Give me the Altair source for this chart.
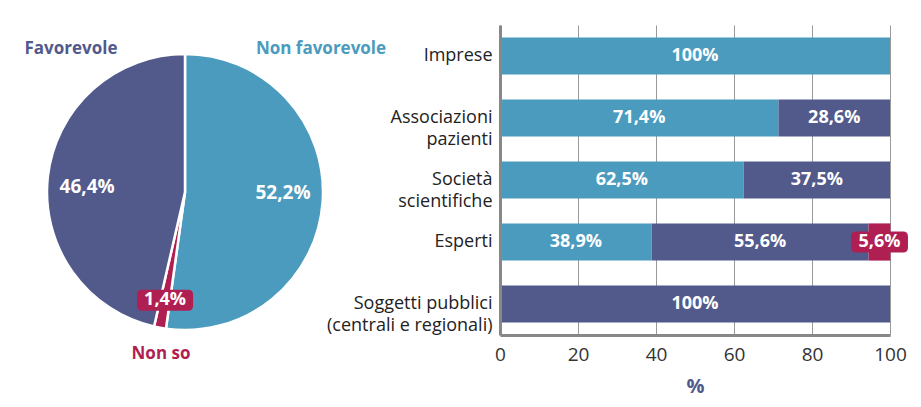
import altair as alt
import numpy as np
import pandas as pd

# Overall opinion (pie)
pie_labels = ["Non favorevole", "Non so", "Favorevole"]
pie_values = [52.2, 1.4, 46.4]

# Opinion by stakeholder group (stacked horizontal bars)
groups = [
    "Imprese",
    "Associazioni|pazienti",
    "Società|scientifiche",
    "Esperti",
    "Soggetti pubblici|(centrali e regionali)",
]
non_favorevole = [100, 71.4, 62.5, 38.9, 0]
favorevole = [0, 28.6, 37.5, 55.6, 100]
non_so = [0, 0, 0, 5.6, 0]

x_ticks = [0, 20, 40, 60, 80, 100]

BLUE = "#4B9BBE"
NAVY = "#525A8C"
CRIMSON = "#B01F52"
series_names = ["Non favorevole", "Favorevole", "Non so"]
series_colors = [BLUE, NAVY, CRIMSON]
FONT = "Open Sans"


def pct(v):
    s = f"{v:.1f}".replace(".", ",")
    if s.endswith(",0"):
        s = s[:-2]
    return s + "%"


def rounded_rect(w, h, r):
    """Unit-scaled rounded rectangle path for a point symbol of width w."""
    k = 2.0 / w
    hw, hh, rr = 1.0, h / 2 * k, r * k
    return (
        f"M {-hw + rr} {-hh} L {hw - rr} {-hh} Q {hw} {-hh} {hw} {-hh + rr} "
        f"L {hw} {hh - rr} Q {hw} {hh} {hw - rr} {hh} "
        f"L {-hw + rr} {hh} Q {-hw} {hh} {-hw} {hh - rr} "
        f"L {-hw} {-hh + rr} Q {-hw} {-hh} {-hw + rr} {-hh} Z"
    )


# ---------------- pie ----------------
PIE_W, PIE_H = 368, 334
R = 138
vals = np.array(pie_values)
ends = np.cumsum(vals) / 100.0
starts = ends - vals / 100.0
mids = (starts + ends) / 2 * 2 * np.pi
pie_df = pd.DataFrame({
    "label": pie_labels,
    "value": pie_values,
    "order": range(len(pie_labels)),
    "text": [pct(v) for v in pie_values],
    "mid": mids,
})
# label placement: small slice gets its badge near the rim on the slice;
# large slices get their labels nudged slightly counter-clockwise
small_slice = pie_df["value"] < 5
pie_df["r"] = np.where(small_slice, 110, 98)
pie_df["ang"] = np.where(small_slice, pie_df["mid"], pie_df["mid"] - np.radians(3.5))
pie_df["px"] = pie_df["r"] * np.sin(pie_df["ang"])
pie_df["py"] = pie_df["r"] * np.cos(pie_df["ang"])

xs = alt.Scale(domain=[-PIE_W / 2, PIE_W / 2])
ys = alt.Scale(domain=[-PIE_H / 2, PIE_H / 2])
color_scale = alt.Scale(domain=series_names, range=series_colors)

# thin darker rim under the slices
rim = alt.Chart(pd.DataFrame({"v": [1]})).mark_arc(
    radius=R + 1, radius2=R - 2, color="#2E3550", opacity=0.35,
).encode(theta=alt.Theta("v:Q", stack=True))

arcs = alt.Chart(pie_df).mark_arc(radius=R, stroke="white", strokeWidth=2.5).encode(
    theta=alt.Theta("value:Q", stack=True),
    order=alt.Order("order:Q"),
    color=alt.Color("label:N", scale=color_scale, legend=None),
)

big = pie_df[~small_slice]
small = pie_df[small_slice]

pie_pct = alt.Chart(big).mark_text(
    color="white", fontWeight="bold", fontSize=19, font=FONT
).encode(
    x=alt.X("px:Q", scale=xs, axis=None),
    y=alt.Y("py:Q", scale=ys, axis=None),
    text="text:N",
)

pie_badge = alt.Chart(small).mark_point(
    shape=rounded_rect(56, 21, 5), size=56 ** 2, filled=True, opacity=1,
    color=CRIMSON, strokeWidth=0,
).encode(
    x=alt.X("px:Q", scale=xs, axis=None),
    y=alt.Y("py:Q", scale=ys, axis=None),
)
pie_badge_text = alt.Chart(small).mark_text(
    color="white", fontWeight="bold", fontSize=18, font=FONT
).encode(
    x=alt.X("px:Q", scale=xs, axis=None),
    y=alt.Y("py:Q", scale=ys, axis=None),
    text="text:N",
)

# category names around the pie (offsets from the pie centre, in pixels)
name_pos = {"Favorevole": (-114, 143), "Non favorevole": (136, 143), "Non so": (-24, -162)}
names_df = pd.DataFrame({
    "label": list(name_pos.keys()),
    "nx": [p[0] for p in name_pos.values()],
    "ny": [p[1] for p in name_pos.values()],
})
pie_names = alt.Chart(names_df).mark_text(fontWeight="bold", fontSize=17, font=FONT).encode(
    x=alt.X("nx:Q", scale=xs, axis=None),
    y=alt.Y("ny:Q", scale=ys, axis=None),
    text="label:N",
    color=alt.Color("label:N", scale=color_scale, legend=None),
)

pie = alt.layer(rim, arcs, pie_pct, pie_badge, pie_badge_text, pie_names).properties(
    width=PIE_W, height=PIE_H
)

# ---------------- bars ----------------
rows = []
for g, nf, f, ns in zip(groups, non_favorevole, favorevole, non_so):
    start = 0.0
    for name, v in zip(series_names, [nf, f, ns]):
        if v > 0:
            rows.append({"group": g, "series": name, "start": start, "end": start + v,
                         "mid": start + v / 2, "text": pct(v)})
            start += v
bar_df = pd.DataFrame(rows)

y_enc = alt.Y(
    "group:N",
    scale=alt.Scale(domain=groups, paddingInner=0.4, paddingOuter=0.2),
    axis=alt.Axis(
        title=None, labelExpr="split(datum.label, '|')", labelFontSize=18,
        labelColor="#222", labelLineHeight=22, labelPadding=8, ticks=False,
        domainColor="#888", domainWidth=3, grid=False, zindex=1, labelFont=FONT,
    ),
)
x_scale = alt.Scale(domain=[0, 100], nice=False)

bars = alt.Chart(bar_df).mark_bar().encode(
    y=y_enc,
    x=alt.X(
        "start:Q", scale=x_scale,
        axis=alt.Axis(
            values=x_ticks, title="%", grid=True, gridColor="#999", gridWidth=1,
            ticks=False, domainColor="#888", domainWidth=3, labelFontSize=19,
            labelColor="#333", labelPadding=10, labelFlush=False, labelFont=FONT,
            titleFontSize=20, titleColor=NAVY, titleFontWeight="bold",
            titlePadding=12, titleFont=FONT,
        ),
    ),
    x2="end:Q",
    color=alt.Color("series:N", scale=color_scale, legend=None),
)

plain = bar_df[bar_df["series"] != "Non so"]
flag = bar_df[bar_df["series"] == "Non so"]

bar_text = alt.Chart(plain).mark_text(
    color="white", fontWeight="bold", fontSize=18, font=FONT
).encode(x=alt.X("mid:Q", scale=x_scale), y=alt.Y("group:N", scale=alt.Scale(domain=groups)),
         text="text:N")

bar_badge = alt.Chart(flag).mark_point(
    shape=rounded_rect(57, 21, 5), size=57 ** 2, filled=True, opacity=1,
    color=CRIMSON, strokeWidth=0,
).encode(x=alt.X("mid:Q", scale=x_scale), y=alt.Y("group:N", scale=alt.Scale(domain=groups)))

bar_badge_text = alt.Chart(flag).mark_text(
    color="white", fontWeight="bold", fontSize=18, font=FONT
).encode(x=alt.X("mid:Q", scale=x_scale), y=alt.Y("group:N", scale=alt.Scale(domain=groups)),
         text="text:N")

bar_chart = alt.layer(bars, bar_badge, bar_text, bar_badge_text).properties(width=390, height=310)

chart = (
    alt.hconcat(pie, bar_chart, spacing=131, bounds="flush")
    .properties(padding={"left": 0, "top": 24, "right": 5, "bottom": 5})
    .configure(font=FONT)
    .configure_view(stroke="transparent")
)

chart.save("out.html", embed_options={"renderer": "svg", "actions": False})
